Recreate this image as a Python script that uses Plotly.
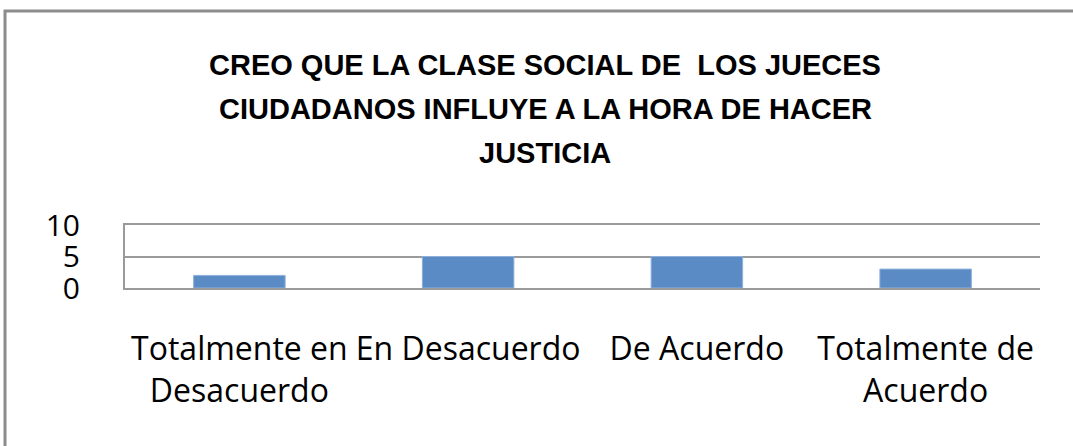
import plotly.graph_objects as go

categories = ["Totalmente en<br>Desacuerdo", "En Desacuerdo", "De Acuerdo", "Totalmente de<br>Acuerdo"]
values = [2, 5, 5, 3]
y_ticks = [0, 5, 10]
title_lines = ["CREO QUE LA CLASE SOCIAL DE  LOS JUECES",
               "CIUDADANOS INFLUYE A LA HORA DE HACER",
               "JUSTICIA"]

W, H = 1073, 446
L, R, T, B = 125, 33, 225, 158
pw, ph = W - L - R, H - T - B

fig = go.Figure(go.Bar(
    x=categories, y=values,
    marker=dict(color="#5B8BC5", line=dict(color="#8FB0DA", width=1)),
    width=0.4,
))

fig.update_layout(
    width=W, height=H,
    margin=dict(l=L, r=R, t=T, b=B),
    paper_bgcolor="white", plot_bgcolor="white",
    showlegend=False,
    font=dict(family="Open Sans, Liberation Sans", color="black"),
    xaxis=dict(showline=True, linecolor="#9a9a9a", linewidth=2, ticks="", mirror=True,
               tickfont=dict(size=32, family="Open Sans"), ticklabelstandoff=32,
               automargin=False),
    yaxis=dict(range=[0, 10], tickvals=y_ticks, showgrid=True, gridcolor="#9a9a9a", gridwidth=2,
               showline=True, linecolor="#9a9a9a", linewidth=2, ticks="",
               tickfont=dict(size=30, family="Open Sans"), ticklabelstandoff=37,
               zeroline=False, automargin=False),
    bargap=0.6,
)

# title, one annotation per line to match the line spacing
title_y = [65, 109, 153]
for line, yp in zip(title_lines, title_y):
    fig.add_annotation(text="<b>" + line + "</b>", xref="paper", yref="paper",
                       x=(545 - L) / pw, y=(H - yp - B) / ph,
                       xanchor="center", yanchor="middle", showarrow=False,
                       font=dict(family="Liberation Sans, Arial", size=29, color="black"))

# outer frame of the chart
fig.add_shape(type="rect", xref="paper", yref="paper",
              x0=(5 - L) / pw, x1=(W + 20 - L) / pw,
              y0=-(B + 20) / ph, y1=(H - 11 - B) / ph,
              line=dict(color="#8c8c8c", width=3), fillcolor="rgba(0,0,0,0)", layer="below")

fig.write_html("out.html", config={"displayModeBar": False},
               post_script="document.body.style.margin='0';document.body.style.overflow='hidden';")
